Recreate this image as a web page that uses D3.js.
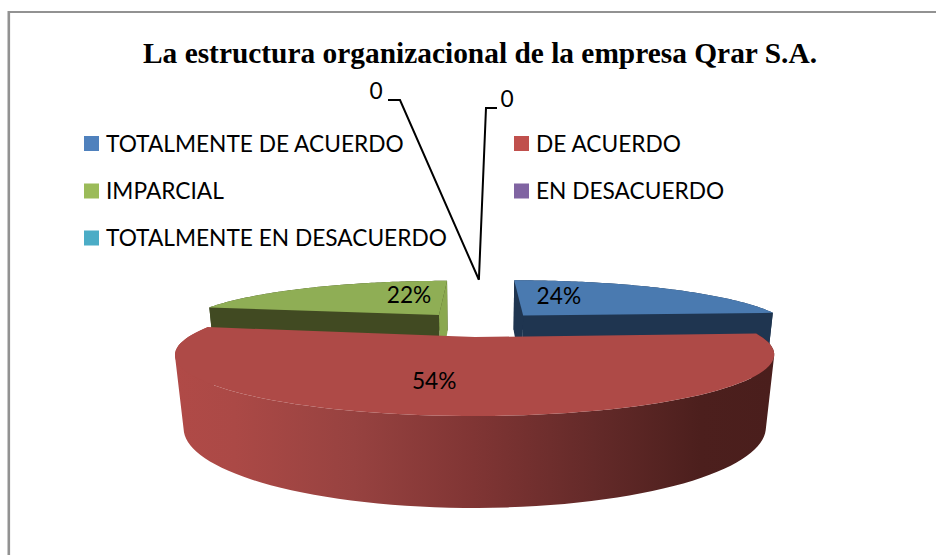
<!DOCTYPE html>
<html><head><meta charset="utf-8">
<script src="https://cdn.jsdelivr.net/npm/d3@7"></script>
<style>html,body{margin:0;padding:0;background:#fff;overflow:hidden}svg{display:block}</style>
</head><body><div id="c"></div>
<script>
const titleText = "La estructura organizacional de la empresa Qrar S.A.";
const categories = ["TOTALMENTE DE ACUERDO","DE ACUERDO","IMPARCIAL","EN DESACUERDO","TOTALMENTE EN DESACUERDO"];
const values = [24,54,22,0,0];
const swatchColors = ["#4f81bd","#c0504d","#9bbb59","#8064a2","#4bacc6"];
const topColors = ["#4a7ab0","#ae4a47","#8fae55"];
const wallColors = ["#1f3550","#4a1e1d","#414a22"];

const W=936,H=555;
const svg=d3.select("#c").append("svg").attr("width",W).attr("height",H);
const font="Lato, sans-serif";
const labelSize=22.7;

// frame: the top and left edges are the only ones inside the picture
svg.append("line").attr("x1",8).attr("x2",W).attr("y1",12).attr("y2",12).attr("stroke","#929292").attr("stroke-width",2);
svg.append("line").attr("x1",8.8).attr("x2",8.8).attr("y1",11).attr("y2",H).attr("stroke","#929292").attr("stroke-width",2.6);

svg.append("text").attr("x",480).attr("y",63).attr("text-anchor","middle")
  .attr("font-family","'Liberation Serif',serif").attr("font-weight","bold").attr("font-size",29.4)
  .attr("fill","#000").text(titleText);

// legend
const legX=d3.scaleOrdinal().domain([0,1]).range([84,514]);
const legY=d3.scaleOrdinal().domain([0,1,2]).range([143.5,191,238]);
categories.forEach((c,i)=>{
  const col=i%2,row=Math.floor(i/2);
  svg.append("rect").attr("x",legX(col)).attr("y",legY(row)-7.5).attr("width",15).attr("height",15).attr("fill",swatchColors[i]);
  svg.append("text").attr("x",legX(col)+22).attr("y",legY(row)+8).attr("font-family",font).attr("font-size",labelSize).attr("fill","#000").text(c);
});

// perspective projection of the exploded 3D pie
const cam={cx:479.5,cy:324,A:267.5,B:48.8,k:0.27,D:65.5,q:0.025};
const proj=(v,u,low)=>{
  const w=1/(1-cam.k*u+(low?cam.q:0));
  return [cam.cx+cam.A*v*w, cam.cy+(cam.B*u+(low?cam.D:0))*w];
};
const explode=0.25;
const sliceRadius=[1,1,0.97,1,1];
const pie=d3.pie().sort(null).value(d=>d).startAngle(0).endAngle(2*Math.PI);
const arcs=pie(values);
const line=d3.line();
const offset=a=>{const m=(a.startAngle+a.endAngle)/2;return [explode*Math.sin(m),-explode*Math.cos(m)];};
const angles=(a)=>d3.range(0,91).map(i=>a.startAngle+(a.endAngle-a.startAngle)*i/90);
const ringPt=(a,t,low,r=1)=>{const o=offset(a),R=r*sliceRadius[a.index];return proj(o[0]+R*Math.sin(t),o[1]-R*Math.cos(t),low);};
const apex=(a,low)=>{const o=offset(a);return proj(o[0],o[1],low);};
const closed=p=>line(p)+"Z";

const defs=svg.append("defs");
const grad=defs.append("linearGradient").attr("id","redRim").attr("gradientUnits","userSpaceOnUse")
  .attr("x1",175).attr("x2",772).attr("y1",0).attr("y2",0);
[[0,"#b04a47"],[0.1,"#ab4946"],[0.3,"#974240"],[0.5,"#803534"],[0.7,"#642a29"],[0.88,"#4c1f1d"],[1,"#4a1e1c"]]
  .forEach(s=>grad.append("stop").attr("offset",s[0]).attr("stop-color",s[1]));

const sideWall=(a,t)=>[apex(a,false),ringPt(a,t,false),ringPt(a,t,true),apex(a,true)];
// outer wall: one consistently wound quad per step, so the silhouette stays whole where the wall folds
const rim=a=>{
  const t=angles(a);
  return d3.pairs(t).map(([s,e])=>{
    const q=[ringPt(a,s,false),ringPt(a,e,false),ringPt(a,e,true),ringPt(a,s,true)];
    if(d3.polygonArea(q)<0) q.reverse();
    return closed(q);
  }).join("");
};
const topFace=a=>[apex(a,false)].concat(angles(a).map(x=>ringPt(a,x,false)));
const g=svg.append("g");

const b=arcs[0],gr=arcs[2],r=arcs[1];
g.append("path").attr("d",rim(b)).attr("fill",wallColors[0]);
g.append("path").attr("d",closed(sideWall(b,b.startAngle))).attr("fill",wallColors[0]);
g.append("path").attr("d",closed(sideWall(b,b.endAngle))).attr("fill",wallColors[0]);
g.append("path").attr("d",closed(topFace(b))).attr("fill",topColors[0]);
g.append("path").attr("d",rim(gr)).attr("fill",wallColors[2]);
g.append("path").attr("d",closed(sideWall(gr,gr.endAngle))).attr("fill","#8aa84f");
g.append("path").attr("d",closed(sideWall(gr,gr.startAngle))).attr("fill",wallColors[2]);
g.append("path").attr("d",closed(topFace(gr))).attr("fill",topColors[2]);
g.append("path").attr("d",rim(r)).attr("fill","url(#redRim)");
g.append("path").attr("d",closed(topFace(r))).attr("fill",topColors[1]);

// data labels
const labelPlace=[[0.23,0.53],[0.533,0.65],[0.785,0.54]];
arcs.slice(0,3).forEach((a,i)=>{
  const t=a.startAngle+(a.endAngle-a.startAngle)*labelPlace[i][0];
  const p=ringPt(a,t,false,labelPlace[i][1]);
  svg.append("text").attr("x",p[0]).attr("y",p[1]+8).attr("text-anchor","middle")
    .attr("font-family",font).attr("font-size",labelSize).attr("fill","#000")
    .text(d3.format(".0%")(a.data/d3.sum(values)));
});

// zero-value labels with leaders
const zeroAnchor=proj(-0.003,-1.2,false);
const zeroLabels=[{elbow:[400,100],end:[388,100],tx:376,ty:99},{elbow:[486,108],end:[497,108],tx:507,ty:107}];
arcs.slice(3).forEach((a,i)=>{
  const z=zeroLabels[i];
  svg.append("path").attr("d",line([zeroAnchor,z.elbow,z.end])).attr("fill","none").attr("stroke","#000").attr("stroke-width",2);
  svg.append("text").attr("x",z.tx).attr("y",z.ty).attr("text-anchor","middle")
    .attr("font-family",font).attr("font-size",labelSize).attr("fill","#000").text(a.data);
});
</script></body></html>
